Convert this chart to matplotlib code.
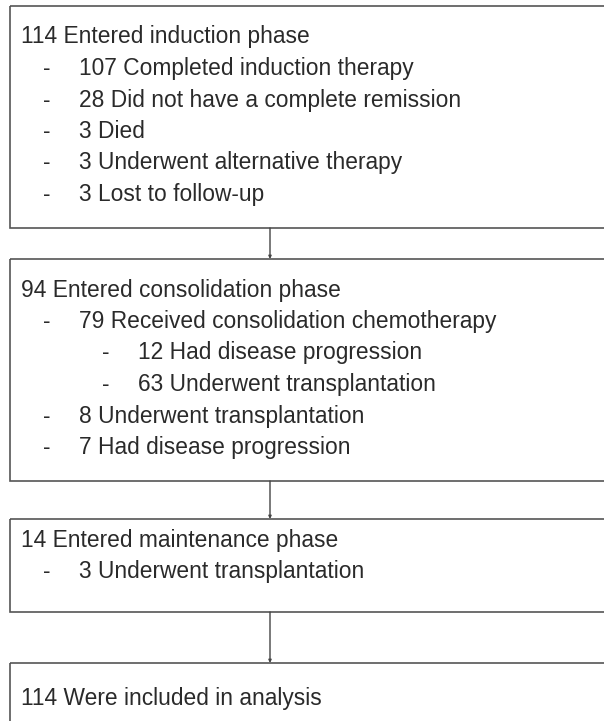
import matplotlib.pyplot as plt
from matplotlib.patches import Rectangle

plt.rcParams['font.family'] = ['Liberation Sans', 'DejaVu Sans']

# box contents: (indent level, text)
induction = [(0, "114 Entered induction phase"),
             (1, "107 Completed induction therapy"),
             (1, "28 Did not have a complete remission"),
             (1, "3 Died"),
             (1, "3 Underwent alternative therapy"),
             (1, "3 Lost to follow-up")]
consolidation = [(0, "94 Entered consolidation phase"),
                 (1, "79 Received consolidation chemotherapy"),
                 (2, "12 Had disease progression"),
                 (2, "63 Underwent transplantation"),
                 (1, "8 Underwent transplantation"),
                 (1, "7 Had disease progression")]
maintenance = [(0, "14 Entered maintenance phase"),
               (1, "3 Underwent transplantation")]
analysis = [(0, "114 Were included in analysis")]

boxes = [induction, consolidation, maintenance, analysis]
# box top/bottom in pixels
box_y = [(6, 228), (259, 481), (519, 612), (663, 740)]
first_line = [37, 290, 540, 698]
line_gap = 31.5
text_x = {0: 21, 1: 79, 2: 138}
dash_x = {1: 43, 2: 102}

fig = plt.figure(figsize=(6.04, 7.21), dpi=100)
ax = fig.add_axes([0, 0, 1, 1])
ax.set_xlim(0, 604)
ax.set_ylim(721, 0)
ax.axis('off')

for lines, (top, bot), y0 in zip(boxes, box_y, first_line):
    ax.add_patch(Rectangle((10, top), 620, bot - top, fill=False,
                           edgecolor='#555555', linewidth=1.2))
    for i, (lvl, txt) in enumerate(lines):
        y = y0 + i * line_gap
        ax.text(text_x[lvl], y, txt, fontsize=16.4, color='#2a2a2a',
                va='center', ha='left')
        if lvl > 0:
            ax.text(dash_x[lvl], y, "-", fontsize=16.4, color='#2a2a2a',
                    va='center', ha='left')

for (t1, b1), (t2, b2) in zip(box_y[:-1], box_y[1:]):
    ax.annotate("", xy=(270, t2), xytext=(270, b1),
                arrowprops=dict(arrowstyle='-|>', color='#444444', lw=1,
                                mutation_scale=4, shrinkA=0, shrinkB=0))

fig.savefig("out.png", dpi=100)
